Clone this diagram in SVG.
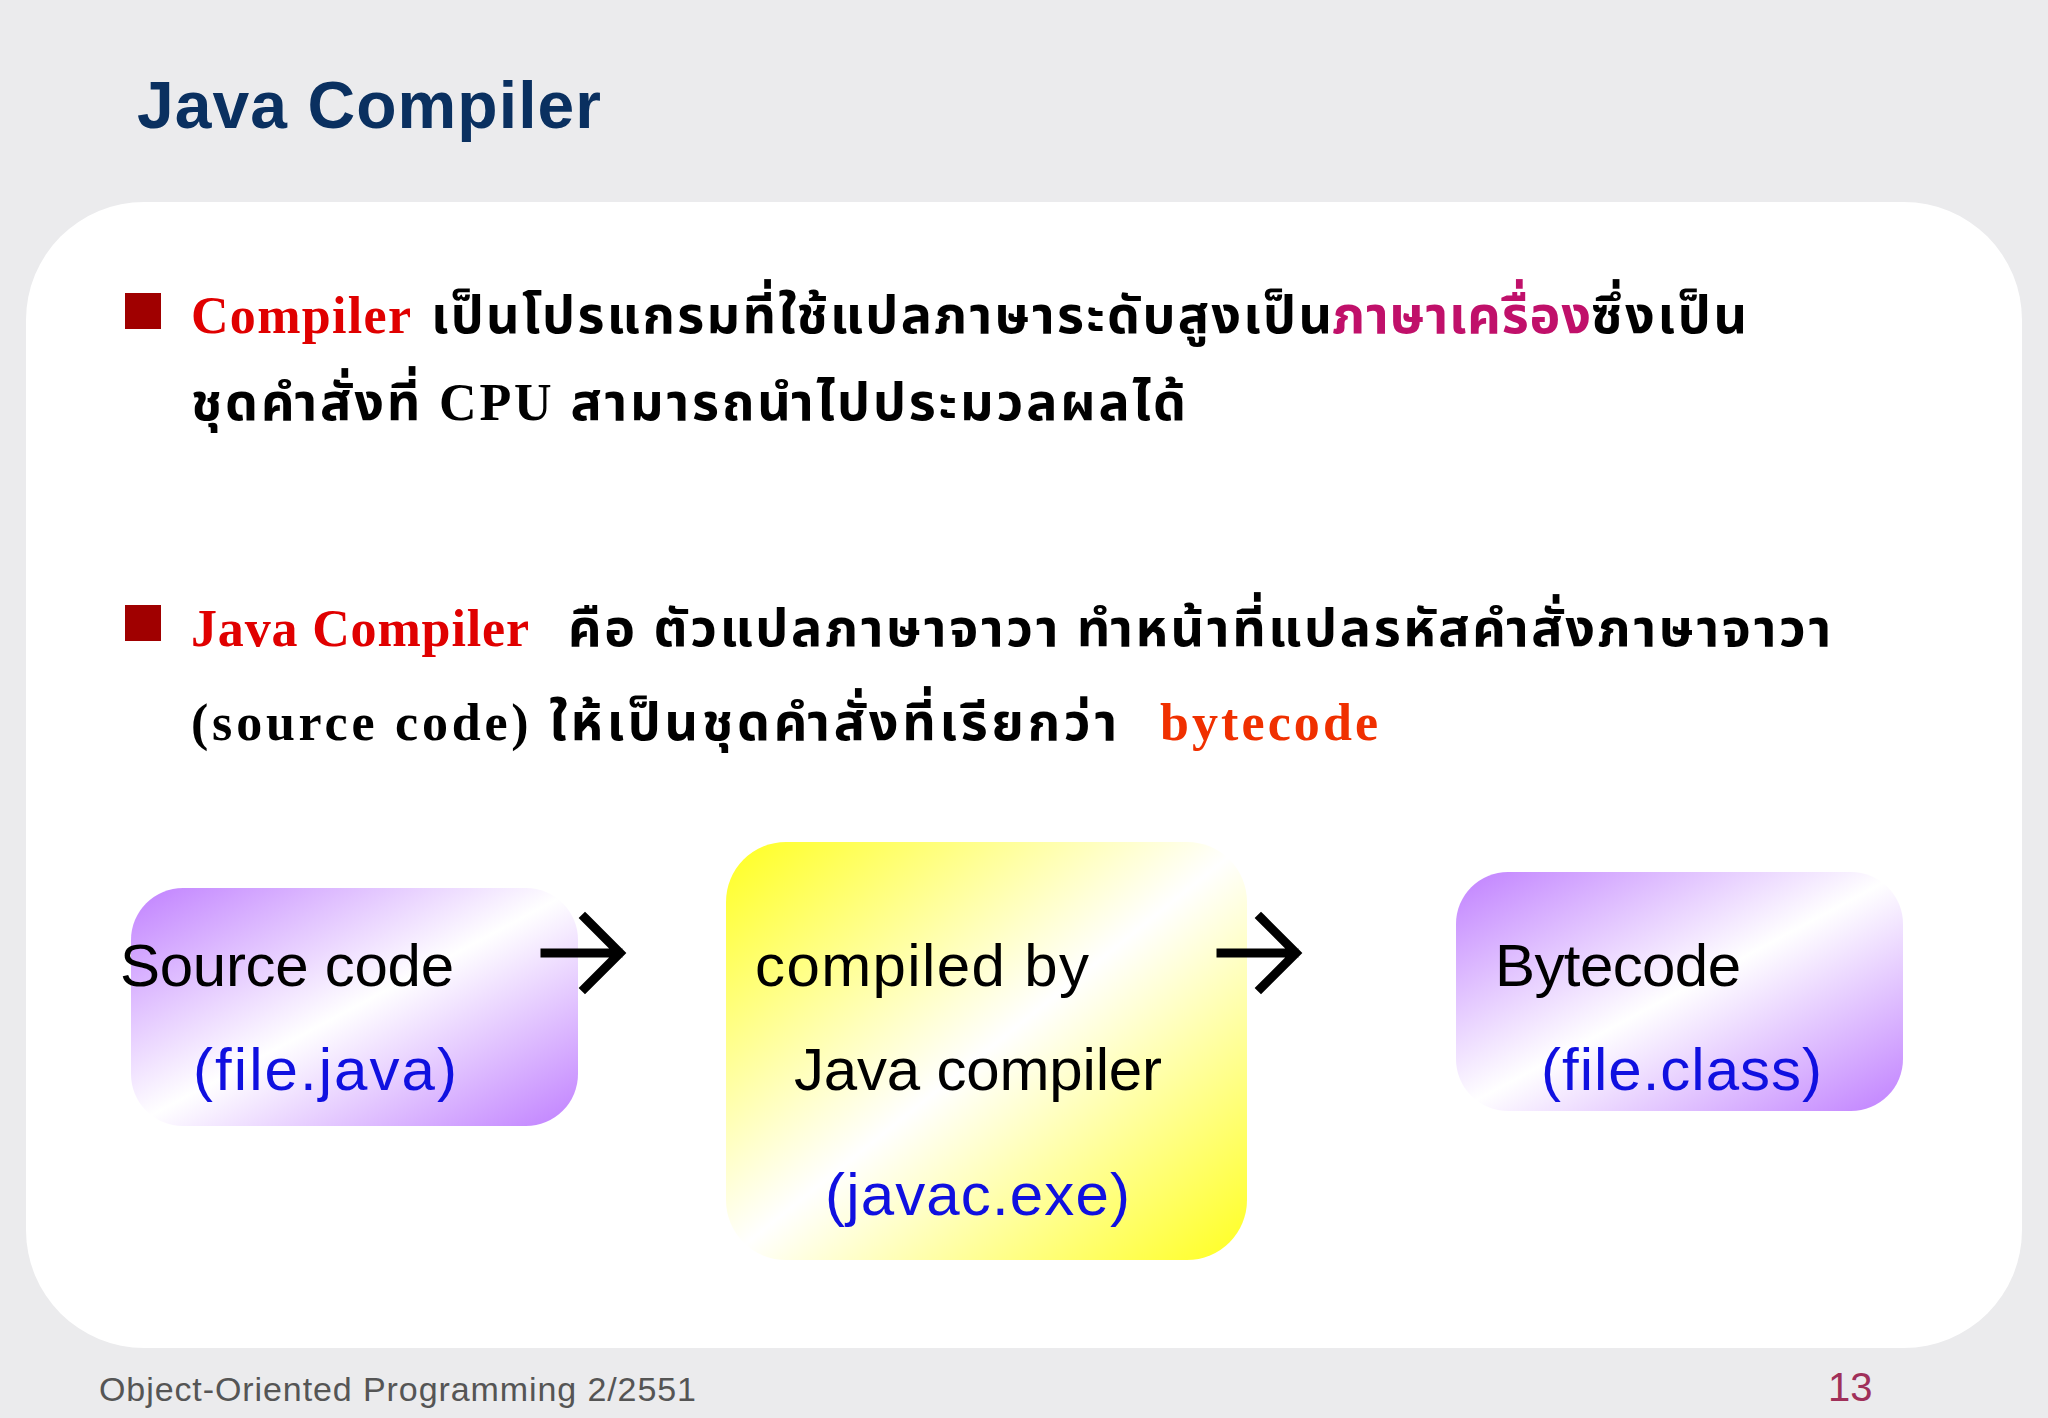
<svg xmlns="http://www.w3.org/2000/svg" width="2048" height="1418" viewBox="0 0 2048 1418">
<style>
.t{font-family:"Liberation Serif","Noto Sans Thai","Noto Serif Thai","DejaVu Sans",serif;font-weight:bold;font-size:52px;fill:#000}
.b{font-family:"Liberation Sans","DejaVu Sans",sans-serif;font-size:60px;fill:#000}
.blue{fill:#1010e0}
</style>
<defs>
<linearGradient id="gp" x1="0" y1="0" x2="1" y2="1">
<stop offset="0" stop-color="#c080ff"/><stop offset="0.5" stop-color="#ffffff"/><stop offset="1" stop-color="#c080ff"/>
</linearGradient>
<linearGradient id="gy" x1="0" y1="0" x2="1" y2="1">
<stop offset="0" stop-color="#ffff20"/><stop offset="0.5" stop-color="#ffffff"/><stop offset="1" stop-color="#ffff20"/>
</linearGradient>
</defs>
<rect width="2048" height="1418" fill="#ebebed"/>
<text x="137" y="128" font-family="Liberation Sans,sans-serif" font-weight="bold" font-size="66" fill="#0a3060" textLength="464">Java Compiler</text>
<rect x="26" y="202" width="1996" height="1146" rx="118" fill="#ffffff"/>
<rect x="125" y="293" width="36" height="36" fill="#a00000"/>
<rect x="125" y="605" width="36" height="36" fill="#a00000"/>
<text class="t" x="191" y="333" fill="#e00000" style="fill:#e00000" textLength="220">Compiler</text>
<text class="t" x="431" y="333" textLength="901">เป็นโปรแกรมที่ใช้แปลภาษาระดับสูงเป็น</text>
<text class="t" x="1332" y="333" style="fill:#c0106a" textLength="259">ภาษาเครื่อง</text>
<text class="t" x="1591" y="333" textLength="156">ซึ่งเป็น</text>
<text class="t" x="191" y="420" textLength="995">ชุดคำสั่งที่ CPU สามารถนำไปประมวลผลได้</text>
<text class="t" x="191" y="646" style="fill:#e00000" textLength="338">Java Compiler</text>
<text class="t" x="568" y="646" textLength="1263">คือ ตัวแปลภาษาจาวา ทำหน้าที่แปลรหัสคำสั่งภาษาจาวา</text>
<text class="t" x="191" y="740" textLength="926">(source code) ให้เป็นชุดคำสั่งที่เรียกว่า</text>
<text class="t" x="1160" y="740" style="fill:#f03000" textLength="218">bytecode</text>
<g id="source">
<rect x="131" y="888" width="447" height="238" rx="52" fill="url(#gp)"/>
<text class="b" x="120" y="986" textLength="334">Source code</text>
<text class="b blue" x="193" y="1090" textLength="264">(file.java)</text>
</g>
<g id="compiler">
<rect x="726" y="842" width="521" height="418" rx="60" fill="url(#gy)"/>
<text class="b" x="755" y="986" textLength="334">compiled by</text>
<text class="b" x="794" y="1090" textLength="368">Java compiler</text>
<text class="b blue" x="825" y="1215" textLength="305">(javac.exe)</text>
</g>
<g id="bytecode">
<rect x="1456" y="872" width="447" height="239" rx="52" fill="url(#gp)"/>
<text class="b" x="1495" y="986" textLength="246">Bytecode</text>
<text class="b blue" x="1541" y="1090" textLength="281">(file.class)</text>
</g>
<g id="connectors" stroke="#000" stroke-width="9" fill="none" stroke-linecap="square">
<path d="M545 953 H618 M585 918 L620 953 L585 988"/>
<path d="M1221 953 H1294 M1261 918 L1296 953 L1261 988"/>
</g>
<text x="99" y="1401" font-family="Liberation Sans,sans-serif" font-size="34" fill="#555" textLength="597">Object-Oriented Programming 2/2551</text>
<text x="1828" y="1401" font-family="Liberation Sans,sans-serif" font-size="40" fill="#a0305a">13</text>
</svg>
